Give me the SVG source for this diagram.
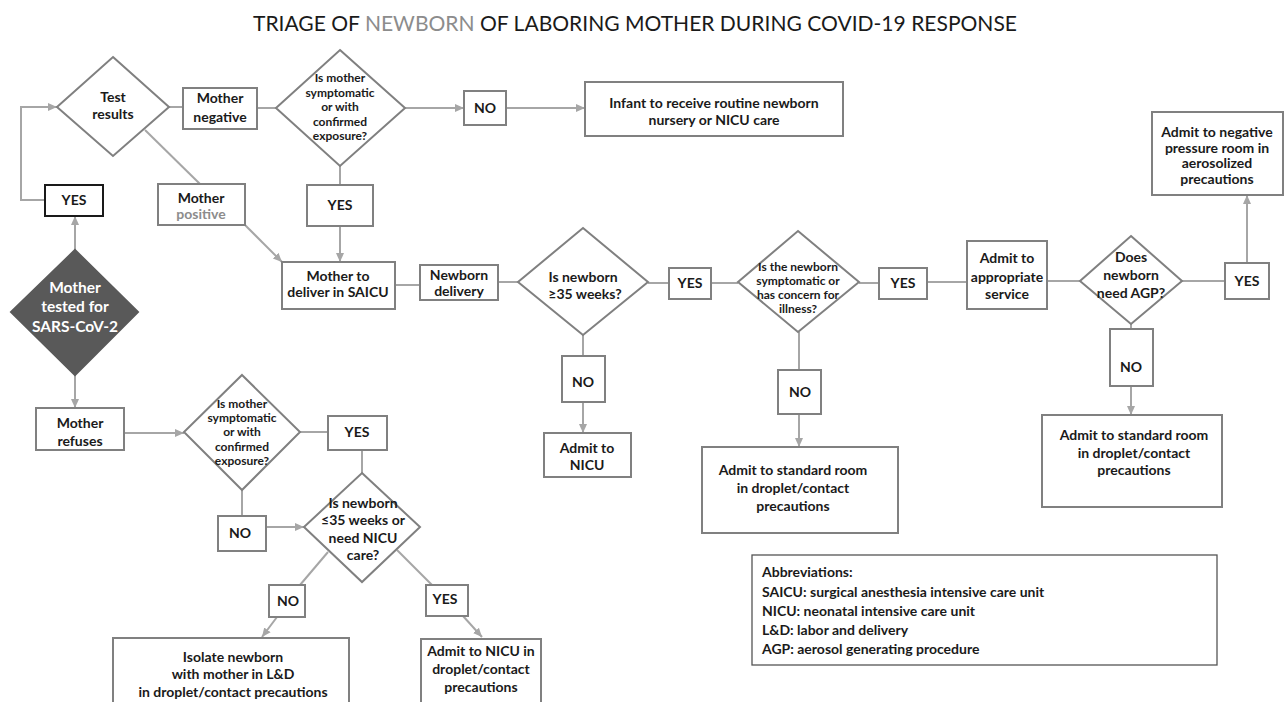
<svg xmlns="http://www.w3.org/2000/svg" width="1285" height="702" viewBox="0 0 1285 702">
<defs>
<marker id="arr" markerUnits="userSpaceOnUse" markerWidth="10" markerHeight="10" refX="9" refY="5" orient="auto">
<path d="M0,1 L9,5 L0,9 Z" fill="#a6a6a6"/>
</marker>
<style>
.bx{fill:#fff;stroke:#808080;stroke-width:2}
.dm{fill:#fff;stroke:#808080;stroke-width:2}
.cn{fill:none;stroke:#a6a6a6;stroke-width:2}
.ar{fill:none;stroke:#a6a6a6;stroke-width:2;marker-end:url(#arr)}
text{font-family:Lato,"Open Sans","Liberation Sans",sans-serif;font-weight:bold;fill:#1a1a1a;text-anchor:middle}
.t14{font-size:14px}
.t12{font-size:12px}
.ab{font-size:14px;text-anchor:start}
</style>
</defs>
<rect width="1285" height="702" fill="#fff"/>
<text x="635" y="31" textLength="764" lengthAdjust="spacingAndGlyphs" style="font-size:21px;font-weight:normal;fill:#1a1a1a">TRIAGE OF <tspan style="fill:#8c8c8c">NEWBORN</tspan> OF LABORING MOTHER DURING COVID-19 RESPONSE</text>

<g id="connectors">
<polyline class="ar" points="45,200 21,200 21,107 57,107"/>
<line class="cn" x1="169" y1="107" x2="183" y2="107"/>
<line class="cn" x1="257" y1="108" x2="276" y2="108"/>
<line class="ar" x1="405" y1="108" x2="464" y2="108"/>
<line class="ar" x1="506" y1="108" x2="585" y2="108"/>
<line class="cn" x1="145" y1="130" x2="200" y2="184"/>
<line class="ar" x1="245" y1="225" x2="282" y2="262"/>
<line class="cn" x1="340" y1="166" x2="340" y2="185"/>
<line class="ar" x1="340" y1="226" x2="340" y2="262"/>
<line class="cn" x1="395" y1="285" x2="420" y2="285"/>
<line class="cn" x1="498" y1="282" x2="518" y2="282"/>
<line class="cn" x1="648" y1="283" x2="669" y2="283"/>
<line class="cn" x1="711" y1="283" x2="738" y2="283"/>
<line class="cn" x1="859" y1="283" x2="879" y2="283"/>
<line class="cn" x1="927" y1="282" x2="967" y2="282"/>
<line class="cn" x1="1047" y1="281" x2="1080" y2="281"/>
<line class="cn" x1="1182" y1="281" x2="1225" y2="281"/>
<line class="ar" x1="1247" y1="263" x2="1247" y2="195"/>
<line class="cn" x1="1131" y1="324" x2="1131" y2="329"/>
<line class="ar" x1="1131" y1="386" x2="1131" y2="415"/>
<line class="cn" x1="583" y1="335" x2="583" y2="356"/>
<line class="ar" x1="583" y1="402" x2="583" y2="433"/>
<line class="cn" x1="799" y1="332" x2="799" y2="370"/>
<line class="ar" x1="799" y1="414" x2="799" y2="447"/>
<line class="ar" x1="75" y1="250" x2="75" y2="216"/>
<line class="ar" x1="75" y1="375" x2="75" y2="408"/>
<line class="ar" x1="124" y1="433" x2="184" y2="433"/>
<line class="cn" x1="300" y1="432" x2="328" y2="432"/>
<line class="cn" x1="362" y1="450" x2="362" y2="473"/>
<line class="cn" x1="242" y1="490" x2="242" y2="516"/>
<line class="ar" x1="266" y1="527" x2="304" y2="527"/>
<line class="cn" x1="328" y1="552" x2="300" y2="585"/>
<line class="ar" x1="277" y1="617" x2="262" y2="637"/>
<line class="cn" x1="397" y1="550" x2="432" y2="585"/>
<line class="ar" x1="463" y1="616" x2="482" y2="637"/>
</g>

<g id="test-results">
<polygon class="dm" points="113,57 169,107 113,156 57,107"/>
<text class="t14" x="113" y="102">Test</text>
<text class="t14" x="113" y="119">results</text>
</g>
<g id="mother-negative">
<rect class="bx" x="183" y="88" width="74" height="41"/>
<text class="t14" x="220" y="103">Mother</text>
<text class="t14" x="220" y="122">negative</text>
</g>
<g id="mother-symptomatic-top">
<polygon class="dm" points="340,50 405,108 340,166 276,108"/>
<text class="t12" x="340" y="82">Is mother</text>
<text class="t12" x="340" y="97">symptomatic</text>
<text class="t12" x="340" y="111">or with</text>
<text class="t12" x="340" y="126">confirmed</text>
<text class="t12" x="340" y="140">exposure?</text>
</g>
<g id="no-top">
<rect class="bx" x="464" y="91" width="42" height="34"/>
<text class="t14" x="485" y="113">NO</text>
</g>
<g id="infant-routine">
<rect class="bx" x="585" y="82" width="258" height="54"/>
<text class="t14" x="714" y="108">Infant to receive routine newborn</text>
<text class="t14" x="714" y="125">nursery or NICU care</text>
</g>
<g id="yes-left">
<rect x="45" y="185" width="58" height="31" fill="#fff" stroke="#1a1a1a" stroke-width="2"/>
<text class="t14" x="74" y="205">YES</text>
</g>
<g id="mother-positive">
<rect class="bx" x="158" y="184" width="87" height="41"/>
<text class="t14" x="201" y="203">Mother</text>
<text class="t14" x="201" y="219" style="fill:#8c8c8c">positive</text>
</g>
<g id="yes-mid">
<rect class="bx" x="307" y="185" width="66" height="41"/>
<text class="t14" x="340" y="210">YES</text>
</g>
<g id="mother-deliver">
<rect class="bx" x="282" y="262" width="113" height="47"/>
<text class="t14" x="338" y="281">Mother to</text>
<text class="t14" x="338" y="297">deliver in SAICU</text>
</g>
<g id="newborn-delivery">
<rect class="bx" x="420" y="265" width="78" height="35"/>
<text class="t14" x="459" y="280">Newborn</text>
<text class="t14" x="459" y="296">delivery</text>
</g>
<g id="newborn-35">
<polygon class="dm" points="583,228 648,282 583,335 518,282"/>
<text class="t14" x="583" y="282">Is newborn</text>
<text class="t14" x="585" y="299">≥35 weeks?</text>
</g>
<g id="yes-35">
<rect class="bx" x="669" y="268" width="42" height="31"/>
<text class="t14" x="690" y="288">YES</text>
</g>
<g id="newborn-symptomatic">
<polygon class="dm" points="798,231 859,282 798,332 738,282"/>
<text class="t12" x="798" y="271">Is the newborn</text>
<text class="t12" x="798" y="285">symptomatic or</text>
<text class="t12" x="798" y="299">has concern for</text>
<text class="t12" x="798" y="313">illness?</text>
</g>
<g id="yes-symptomatic">
<rect class="bx" x="879" y="268" width="48" height="31"/>
<text class="t14" x="903" y="288">YES</text>
</g>
<g id="admit-appropriate">
<rect class="bx" x="967" y="241" width="80" height="68"/>
<text class="t14" x="1007" y="263">Admit to</text>
<text class="t14" x="1007" y="282">appropriate</text>
<text class="t14" x="1007" y="299">service</text>
</g>
<g id="need-agp">
<polygon class="dm" points="1131,236 1182,281 1131,324 1080,281"/>
<text class="t14" x="1131" y="262">Does</text>
<text class="t14" x="1131" y="280">newborn</text>
<text class="t14" x="1131" y="298">need AGP?</text>
</g>
<g id="yes-agp">
<rect class="bx" x="1225" y="263" width="44" height="36"/>
<text class="t14" x="1247" y="286">YES</text>
</g>
<g id="negative-pressure">
<rect class="bx" x="1152" y="112" width="131" height="83"/>
<text class="t14" x="1217" y="137">Admit to negative</text>
<text class="t14" x="1217" y="153">pressure room in</text>
<text class="t14" x="1217" y="168">aerosolized</text>
<text class="t14" x="1217" y="184">precautions</text>
</g>
<g id="no-agp">
<rect class="bx" x="1110" y="329" width="43" height="57"/>
<text class="t14" x="1131" y="372">NO</text>
</g>
<g id="standard-room-right">
<rect class="bx" x="1042" y="415" width="180" height="92"/>
<text class="t14" x="1134" y="440">Admit to standard room</text>
<text class="t14" x="1134" y="458">in droplet/contact</text>
<text class="t14" x="1134" y="475">precautions</text>
</g>
<g id="no-35">
<rect class="bx" x="562" y="356" width="43" height="46"/>
<text class="t14" x="583" y="387">NO</text>
</g>
<g id="admit-nicu">
<rect class="bx" x="544" y="433" width="87" height="44"/>
<text class="t14" x="587" y="453">Admit to</text>
<text class="t14" x="587" y="470">NICU</text>
</g>
<g id="no-symptomatic">
<rect class="bx" x="778" y="370" width="43" height="44"/>
<text class="t14" x="800" y="397">NO</text>
</g>
<g id="standard-room-mid">
<rect class="bx" x="702" y="447" width="196" height="86"/>
<text class="t14" x="793" y="475">Admit to standard room</text>
<text class="t14" x="793" y="493">in droplet/contact</text>
<text class="t14" x="793" y="511">precautions</text>
</g>
<g id="mother-tested">
<polygon points="75,250 138,312 75,375 11,312" fill="#595959" stroke="#595959" stroke-width="2"/>
<text x="75" y="293" style="font-size:15.5px;fill:#fff">Mother</text>
<text x="75" y="312" style="font-size:15.5px;fill:#fff">tested for</text>
<text x="75" y="332" style="font-size:15.5px;fill:#fff">SARS-CoV-2</text>
</g>
<g id="mother-refuses">
<rect class="bx" x="36" y="408" width="88" height="42"/>
<text class="t14" x="80" y="428">Mother</text>
<text class="t14" x="80" y="446">refuses</text>
</g>
<g id="mother-symptomatic-bottom">
<polygon class="dm" points="242,375 300,432 242,490 184,432"/>
<text class="t12" x="242" y="408">Is mother</text>
<text class="t12" x="242" y="422">symptomatic</text>
<text class="t12" x="242" y="436">or with</text>
<text class="t12" x="242" y="451">confirmed</text>
<text class="t12" x="242" y="465">exposure?</text>
</g>
<g id="yes-bottom">
<rect class="bx" x="328" y="416" width="59" height="34"/>
<text class="t14" x="357" y="437">YES</text>
</g>
<g id="no-bottom">
<rect class="bx" x="218" y="516" width="48" height="35"/>
<text class="t14" x="240" y="538">NO</text>
</g>
<g id="newborn-le35">
<polygon class="dm" points="362,473 420,527 362,582 304,527"/>
<text class="t14" x="363" y="508">Is newborn</text>
<text class="t14" x="363" y="525">≤35 weeks or</text>
<text class="t14" x="363" y="543">need NICU</text>
<text class="t14" x="363" y="560">care?</text>
</g>
<g id="no-le35">
<rect class="bx" x="269" y="585" width="36" height="32"/>
<text class="t14" x="288" y="606">NO</text>
</g>
<g id="yes-le35">
<rect class="bx" x="426" y="585" width="42" height="31"/>
<text class="t14" x="445" y="604">YES</text>
</g>
<g id="isolate-newborn">
<rect class="bx" x="113" y="638" width="236" height="80"/>
<text class="t14" x="233" y="662">Isolate newborn</text>
<text class="t14" x="233" y="679">with mother in L&amp;D</text>
<text class="t14" x="233" y="697">in droplet/contact precautions</text>
</g>
<g id="admit-nicu-droplet">
<rect class="bx" x="421" y="639" width="120" height="80"/>
<text class="t14" x="481" y="656">Admit to NICU in</text>
<text class="t14" x="481" y="674">droplet/contact</text>
<text class="t14" x="481" y="692">precautions</text>
</g>
<g id="abbreviations">
<rect x="752" y="555" width="465" height="110" fill="#fff" stroke="#555" stroke-width="1.3"/>
<text class="ab" x="762" y="577">Abbreviations:</text>
<text class="ab" x="762" y="597">SAICU: surgical anesthesia intensive care unit</text>
<text class="ab" x="762" y="616">NICU: neonatal intensive care unit</text>
<text class="ab" x="762" y="635">L&amp;D: labor and delivery</text>
<text class="ab" x="762" y="654">AGP: aerosol generating procedure</text>
</g>
</svg>
